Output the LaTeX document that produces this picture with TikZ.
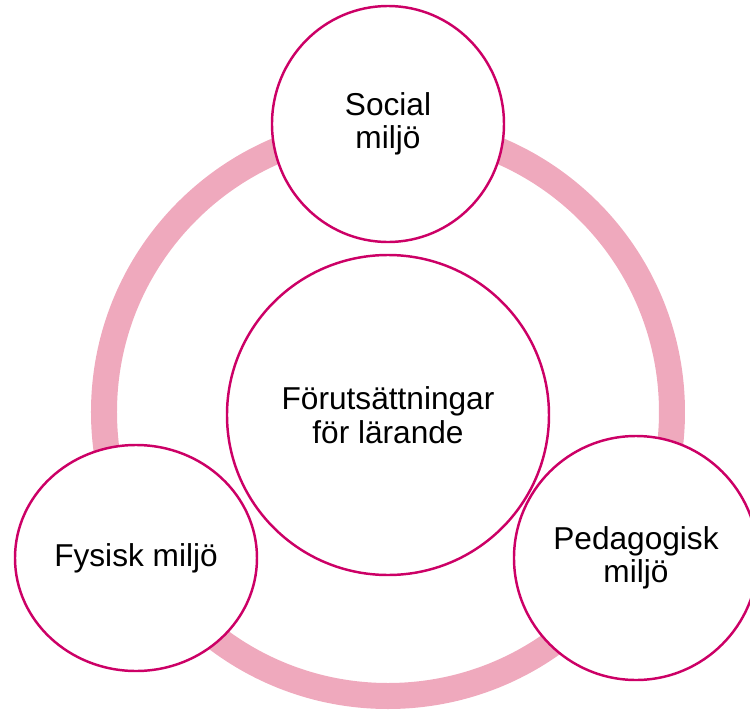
\documentclass[tikz,border=0pt]{standalone}
\usepackage{fontspec}
\setmainfont{Liberation Sans}
\usetikzlibrary{positioning,shapes.geometric}
\definecolor{ringpink}{RGB}{239,169,189}
\definecolor{edgemagenta}{RGB}{204,0,102}

\begin{document}
\begin{tikzpicture}
    % Define styles
    \tikzstyle{ring} = [draw=ringpink, line width=0.52cm]
    \tikzstyle{area} = [ellipse, draw=edgemagenta, line width=1.4pt, fill=white, inner sep=0pt, align=center, font=\fontsize{18}{19}\selectfont]

    % Frame
    \clip (-7.76,-5.98) rectangle (7.24,8.24);
    \useasboundingbox (-7.76,-5.98) rectangle (7.24,8.24);

    % Ring
    \draw [ring] (0,0) circle (5.68cm);

    % Circles
    \node [area, minimum width=6.44cm, minimum height=6.4cm] (learning) at (0,-0.06) {Förutsättningar\\för lärande};
    \node [area, minimum width=4.64cm, minimum height=4.72cm] (social) at (0,5.76) {Social\\miljö};
    \node [area, minimum width=4.84cm, minimum height=4.52cm] (physical) at (-5.04,-2.92) {Fysisk miljö};
    \node [area, minimum width=4.88cm, minimum height=4.88cm] (pedagogic) at (4.96,-2.92) {Pedagogisk\\miljö};
\end{tikzpicture}
\end{document}
